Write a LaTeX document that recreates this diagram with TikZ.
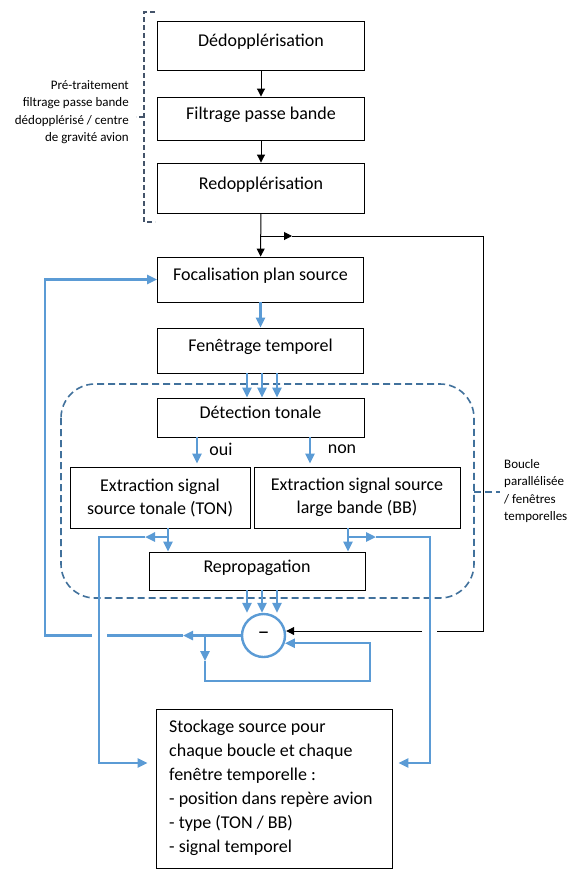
\documentclass[tikz,border=0pt]{standalone}
\usepackage{fontspec}
\setmainfont{Carlito}
\newfontfamily\djv{DejaVu Sans}
\usetikzlibrary{arrows.meta,calc}
\definecolor{bl}{RGB}{91,155,213}
\definecolor{dk}{RGB}{68,84,106}
\definecolor{dsh}{RGB}{65,113,156}
\begin{document}
\begin{tikzpicture}[x=1pt,y=-1pt,
  box/.style={draw=black,line width=0.9pt,fill=white,inner sep=0pt,font=\fontsize{18}{23}\selectfont,align=center},
  oneline/.style={text height=12pt,text depth=10pt},
  kline/.style={draw=black,line width=1pt},
  karrow/.style={kline,-{Triangle[length=8pt,width=8pt]}},
  bline/.style={draw=bl,line width=2.4pt},
  barrow/.style={bline,-{Triangle[length=10pt,width=9pt]}},
  dashrect/.style={draw=dsh,line width=1.6pt,dash pattern=on 7pt off 4pt,rounded corners=34pt},
  brk/.style={draw=dk,line width=1.6pt,dash pattern=on 5pt off 3pt},
  small/.style={font=\fontsize{13}{17.3}\selectfont,inner sep=0pt},
  lbl/.style={font=\fontsize{18}{22}\selectfont,inner sep=0pt}]
\useasboundingbox (0,0) rectangle (575,870);

% dashed loop frame and bracket
\draw[dashrect] (61,384) rectangle (474,598);
\draw[dashrect,rounded corners=0pt] (474,492) -- (500,492);
\draw[brk] (155,12) -- (144,12) -- (144,222) -- (155,222);
\draw[brk] (144,117) -- (136,117);

% boxes
\node[box,oneline,minimum width=207pt,minimum height=49pt] (dedop) at (261,45.5) {Dédopplérisation};
\node[box,oneline,minimum width=207pt,minimum height=43pt] (filt) at (261,118.5) {Filtrage passe bande};
\node[box,oneline,minimum width=207pt,minimum height=50pt] (redop) at (261,188) {Redopplérisation};
\node[box,oneline,minimum width=206pt,minimum height=45pt] (focal) at (260.5,279.5) {Focalisation plan source};
\node[box,oneline,minimum width=206pt,minimum height=45pt] (fenet) at (260.5,350.5) {Fenêtrage temporel};
\node[box,oneline,minimum width=207pt,minimum height=39pt] (detect) at (260.5,417.5) {Détection tonale};
\node[box,minimum width=180pt,minimum height=61pt] (ton) at (160,497.5) {Extraction signal\\source tonale (TON)};
\node[box,minimum width=206pt,minimum height=61pt] (bb) at (357,497.5) {Extraction signal source\\large bande (BB)};
\node[box,oneline,minimum width=216pt,minimum height=38pt] (repro) at (257,571) {Repropagation};
\node[circle,draw=bl,line width=2.4pt,minimum size=43pt,inner sep=0pt,fill=white,font=\djv\fontsize{21}{24}\selectfont] (sub) at (263.5,635.5) {–};
\node[box,minimum width=236pt,minimum height=159pt] (stock) at (274,788.5) {};
\node[anchor=west,align=left,font=\fontsize{18}{24}\selectfont,inner sep=0pt] (stocktxt) at (169,788) {Stockage source pour\\chaque boucle et chaque\\fenêtre temporelle :\\- position dans repère avion\\- type (TON / BB)\\- signal temporel};

% labels
\node[small,anchor=east,align=right] (pre) at (129,112) {Pré-traitement\\filtrage passe bande\\dédopplérisé / centre\\de gravité avion};
\node[small,anchor=west,align=left] (boucle) at (504,491) {Boucle\\parallélisée\\/ fenêtres\\temporelles};
\node[lbl] (oui) at (221,449) {oui};
\node[lbl] (non) at (342,449) {non};

% black connectors
\draw[karrow] (dedop) -- (filt);
\draw[karrow] (filt) -- (redop);
\draw[karrow] (redop) -- (focal);
\coordinate (j1) at (261,236);
\coordinate (j1t) at (292,236);
\coordinate (kc1) at (483,236);
\coordinate (kc2) at (483,631);
\coordinate (kg1) at (437,631);
\coordinate (kg2) at (422,631);
\draw[karrow] (j1) -- (j1t);
\draw[kline] (j1t) -- (kc1) -- (kc2) -- (kg1);
\draw[karrow] (kg2) -- (sub.east |- kg2);

% blue connectors main column
\draw[barrow] (focal) -- (fenet);
\foreach \xx in {247,262,277}{
  \draw[barrow] (fenet.south -| \xx,0) -- (detect.north -| \xx,0);
  \draw[barrow] (repro.south -| \xx,0) -- (sub.north -| \xx,0);
}
\draw[barrow,shorten >=3pt] (detect.south -| 197,0) -- (ton.north -| 197,0);
\draw[barrow,shorten >=3pt] (detect.south -| 310,0) -- (bb.north -| 310,0);
\draw[barrow] (ton.south -| 168,0) -- (repro.north -| 168,0);
\draw[barrow] (bb.south -| 348,0) -- (repro.north -| 348,0);

% TON branch to storage
\coordinate (tj) at (168,537);
\coordinate (tt) at (145,537);
\coordinate (tc1) at (99,537);
\draw[barrow] (tj) -- (tt);
\draw[barrow,shorten >=8pt] (tt) -- (tc1) |- (stock.west |- 0,763);

% BB branch to storage
\coordinate (rj) at (348,537);
\coordinate (rt) at (376,537);
\coordinate (rc1) at (430,537);
\draw[barrow] (rj) -- (rt);
\draw[barrow,shorten >=6pt] (rt) -- (rc1) |- (stock.east |- 0,763);

% left feedback loop
\coordinate (lt) at (183,635.5);
\coordinate (lg1) at (107,635.5);
\coordinate (lg2) at (92,635.5);
\coordinate (lc1) at (45,635.5);
\draw[barrow] (sub.west) -- (lt);
\draw[bline] (lt) -- (lg1);
\draw[barrow] (lg2) -- (lc1) |- (focal.west);

% small loop back into the subtractor
\coordinate (bj) at (205,635.5);
\coordinate (bt) at (205,661);
\coordinate (bc1) at (205,681);
\coordinate (bc2) at (370,681);
\draw[barrow] (bj) -- (bt);
\draw[barrow] (bt) -- (bc1) -- (bc2) |- (sub.-20);
\end{tikzpicture}
\end{document}
